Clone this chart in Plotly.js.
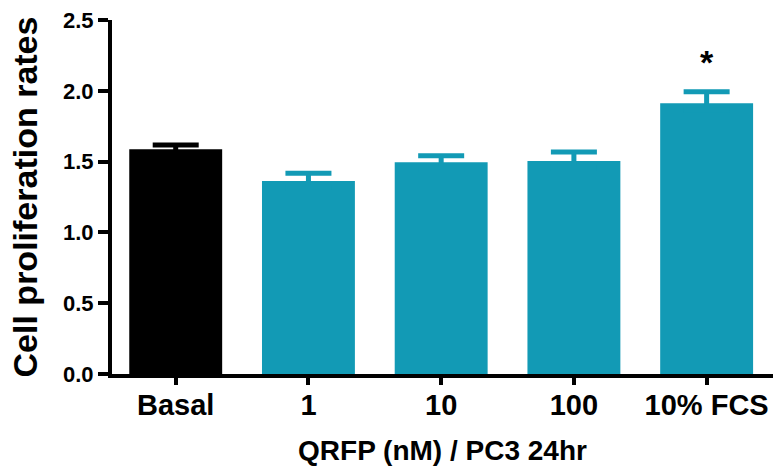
<!DOCTYPE html>
<html>
<head>
<meta charset="utf-8">
<script src="https://cdn.plot.ly/plotly-3.0.1.min.js"></script>
<style>html,body{margin:0;padding:0;background:#fff;}#chart{width:773px;height:466px;}</style>
</head>
<body>
<div id="chart"></div>
<script>
const categories = ['Basal', '1', '10', '100', '10% FCS'];
const values = [1.587, 1.363, 1.495, 1.504, 1.912];
const errors = [0.03, 0.055, 0.047, 0.064, 0.082];
const barColors = ['#000000', '#129ab5', '#129ab5', '#129ab5', '#129ab5'];
const yTickVals = [0, 0.5, 1.0, 1.5, 2.0, 2.5];
const yTickText = ['0.0', '0.5', '1.0', '1.5', '2.0', '2.5'];
const sigIndex = 4;
const sigLabel = '*';

const fontFam = 'Liberation Sans, Arial, sans-serif';
const xIdx = categories.map((c, i) => i);
// the lower end of each error bar is tucked inside its bar so that only the upper part shows
const hideDepth = 0.05;

const barTrace = {
  type: 'bar',
  x: xIdx,
  y: values,
  width: 0.70,
  marker: {color: barColors, line: {width: 0}},
  hoverinfo: 'none'
};

function errTrace(idxs, color) {
  return {
    type: 'scatter', mode: 'markers',
    x: idxs,
    y: idxs.map(i => values[i] - hideDepth),
    marker: {size: 1, color: 'rgba(0,0,0,0)'},
    error_y: {type: 'data', symmetric: false,
              array: idxs.map(i => errors[i] + hideDepth),
              arrayminus: idxs.map(() => 0),
              visible: true, thickness: 5, width: 23, color: color},
    hoverinfo: 'none', showlegend: false
  };
}

const blackIdx = xIdx.filter(i => barColors[i] === '#000000');
const tealIdx = xIdx.filter(i => barColors[i] !== '#000000');

const layout = {
  width: 773, height: 466,
  margin: {l: 112, r: 0, t: 20, b: 92},
  paper_bgcolor: '#ffffff', plot_bgcolor: '#ffffff',
  showlegend: false,
  xaxis: {
    range: [-0.48, 4.5],
    tickvals: xIdx,
    ticktext: categories,
    showgrid: false, zeroline: false,
    showline: true, linewidth: 4, linecolor: '#000',
    ticks: 'outside', ticklen: 7, tickwidth: 4, tickcolor: '#000',
    ticklabelstandoff: -5,
    tickfont: {family: fontFam, size: 29, color: '#000', weight: 'bold'},
    title: {text: 'QRFP (nM) / PC3 24hr', standoff: 24,
            font: {family: fontFam, size: 28, color: '#000', weight: 'bold'}},
    fixedrange: true
  },
  yaxis: {
    range: [0, 2.5],
    tickvals: yTickVals,
    ticktext: yTickText,
    showgrid: false, zeroline: false,
    showline: true, linewidth: 4, linecolor: '#000',
    ticks: 'outside', ticklen: 10, tickwidth: 4, tickcolor: '#000',
    tickfont: {family: fontFam, size: 22, color: '#000', weight: 'bold'},
    title: {text: 'Cell proliferation rates', standoff: 16,
            font: {family: fontFam, size: 34, color: '#000', weight: 'bold'}},
    fixedrange: true
  },
  annotations: [{
    x: sigIndex, y: values[sigIndex] + errors[sigIndex], xref: 'x', yref: 'y',
    text: sigLabel, showarrow: false, yanchor: 'bottom', yshift: 9,
    font: {family: fontFam, size: 34, color: '#000', weight: 'bold'}
  }]
};

Plotly.newPlot('chart', [barTrace, errTrace(blackIdx, '#000000'), errTrace(tealIdx, '#129ab5')],
  layout, {displayModeBar: false, staticPlot: true});
</script>
</body>
</html>
